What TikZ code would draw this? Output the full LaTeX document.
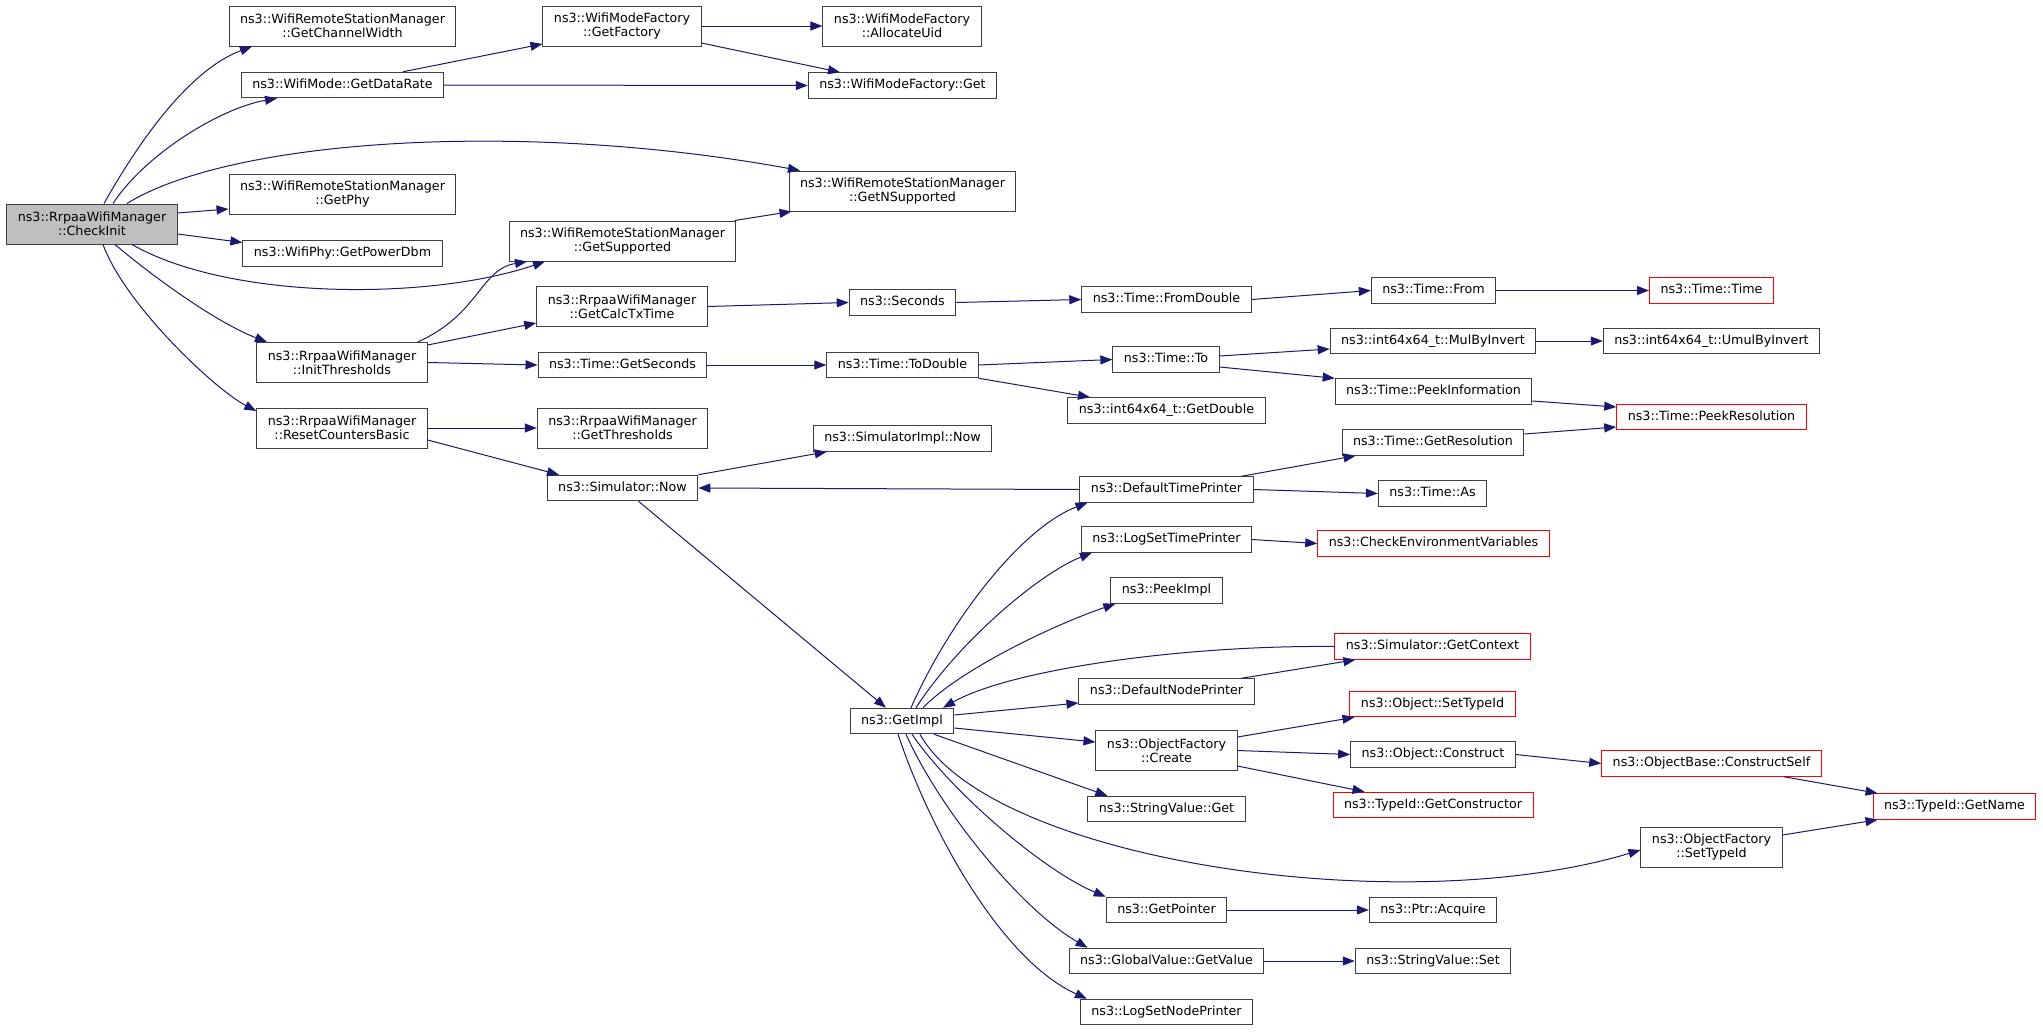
\documentclass[tikz,border=0pt]{standalone}
\usepackage{fontspec}
\setmainfont{DejaVu Sans}
\usetikzlibrary{arrows.meta,positioning}
\definecolor{edgeblue}{HTML}{191970}
\definecolor{boxline}{HTML}{404040}
\definecolor{rootfill}{HTML}{BFBFBF}
\definecolor{truncred}{HTML}{FF0000}

\begin{document}
\begin{tikzpicture}[
    x=1pt, y=-1pt,
    font=\fontsize{12.7}{14}\selectfont,
    box/.style={rectangle, draw=boxline, fill=white, line width=1pt, inner xsep=11pt, inner ysep=0pt},
    block/.style={box, minimum height=25.5pt, text height=9.5pt, text depth=2.8pt},
    block2/.style={box, align=center, minimum height=40pt},
    cut/.style={draw=truncred},
    root/.style={fill=rootfill},
    arrow/.style={draw=edgeblue, line width=1pt, -{Triangle[length=12pt,width=9pt]}}
]
    \path[use as bounding box, fill=white] (0,0) rectangle (2043,1031);

    \node[block2, root] (ci) at (92,224) {ns3::RrpaaWifiManager\\::CheckInit};

    \node[block2] (gcw) at (342.5,26) {ns3::WifiRemoteStationManager\\::GetChannelWidth};
    \node[block] (gdr) at (342.5,85) {ns3::WifiMode::GetDataRate};
    \node[block2] (gphy) at (342.5,194) {ns3::WifiRemoteStationManager\\::GetPhy};
    \node[block] (gpd) at (342.5,253.5) {ns3::WifiPhy::GetPowerDbm};
    \node[block2] (it) at (342,362.5) {ns3::RrpaaWifiManager\\::InitThresholds};
    \node[block2] (rcb) at (342,428) {ns3::RrpaaWifiManager\\::ResetCountersBasic};

    \node[block2] (gf) at (622,26) {ns3::WifiModeFactory\\::GetFactory};
    \node[block2] (gs) at (622.5,241) {ns3::WifiRemoteStationManager\\::GetSupported};
    \node[block2] (gct) at (622,306.5) {ns3::RrpaaWifiManager\\::GetCalcTxTime};
    \node[block] (gsec) at (622.5,365) {ns3::Time::GetSeconds};
    \node[block2] (gth) at (622.5,428) {ns3::RrpaaWifiManager\\::GetThresholds};
    \node[block] (snow) at (622.5,488) {ns3::Simulator::Now};

    \node[block2] (au) at (902,26) {ns3::WifiModeFactory\\::AllocateUid};
    \node[block] (wmfg) at (902.5,85.5) {ns3::WifiModeFactory::Get};
    \node[block2] (gns) at (902.5,191) {ns3::WifiRemoteStationManager\\::GetNSupported};
    \node[block] (sec) at (902.5,302.5) {ns3::Seconds};
    \node[block] (td) at (902.5,365) {ns3::Time::ToDouble};
    \node[block] (simpl) at (902.5,438.5) {ns3::SimulatorImpl::Now};
    \node[block] (gi) at (902,721) {ns3::GetImpl};

    \node[block] (fd) at (1166.5,299.5) {ns3::Time::FromDouble};
    \node[block] (tto) at (1166,359.5) {ns3::Time::To};
    \node[block] (gd) at (1166.5,410.5) {ns3::int64x64\_t::GetDouble};
    \node[block] (dtp) at (1166.5,489.5) {ns3::DefaultTimePrinter};
    \node[block] (lstp) at (1166.5,539.5) {ns3::LogSetTimePrinter};
    \node[block] (pimpl) at (1166.5,590.5) {ns3::PeekImpl};
    \node[block] (dnp) at (1166.5,691.5) {ns3::DefaultNodePrinter};
    \node[block2] (ofc) at (1166.5,750.5) {ns3::ObjectFactory\\::Create};
    \node[block] (svg) at (1166.5,809) {ns3::StringValue::Get};
    \node[block] (gp) at (1166.5,910) {ns3::GetPointer};
    \node[block] (ggv) at (1166.5,961) {ns3::GlobalValue::GetValue};
    \node[block] (lsnp) at (1166.5,1012) {ns3::LogSetNodePrinter};

    \node[block] (tfrom) at (1433.5,290.5) {ns3::Time::From};
    \node[block] (mbi) at (1433,341) {ns3::int64x64\_t::MulByInvert};
    \node[block] (pinf) at (1433.5,391.5) {ns3::Time::PeekInformation};
    \node[block] (gres) at (1433,442.5) {ns3::Time::GetResolution};
    \node[block] (tas) at (1432.5,493.5) {ns3::Time::As};
    \node[block, cut] (cev) at (1433.5,543.5) {ns3::CheckEnvironmentVariables};
    \node[block, cut] (gctx) at (1432.5,646.5) {ns3::Simulator::GetContext};
    \node[block, cut] (osti) at (1432.5,704) {ns3::Object::SetTypeId};
    \node[block] (ocon) at (1433,754.5) {ns3::Object::Construct};
    \node[block, cut] (gcon) at (1433,805) {ns3::TypeId::GetConstructor};
    \node[block] (pacq) at (1433,910) {ns3::Ptr::Acquire};
    \node[block] (ssv) at (1433,961) {ns3::StringValue::Set};

    \node[block, cut] (ttime) at (1711.5,290.5) {ns3::Time::Time};
    \node[block] (umul) at (1711.5,341) {ns3::int64x64\_t::UmulByInvert};
    \node[block, cut] (pres) at (1711.5,417) {ns3::Time::PeekResolution};
    \node[block, cut] (ocs) at (1711.5,763.5) {ns3::ObjectBase::ConstructSelf};
    \node[block2] (ofs) at (1711.5,847) {ns3::ObjectFactory\\::SetTypeId};

    \node[block, cut] (gname) at (1954.5,806.5) {ns3::TypeId::GetName};

    \draw[arrow] ([xshift=12pt]ci.north) .. controls +(36,-64) and +(-62,23) .. ([xshift=-90.5pt]gcw.south);
    \draw[arrow] ([xshift=21pt]ci.north) .. controls +(32,-49) and +(-57,10) .. ([xshift=-65.5pt]gdr.south);
    \draw[arrow] ([xshift=35pt]ci.north) .. controls +(103,-64) and +(-280,-51) .. ([xshift=-102.5pt]gns.north);
    \draw[arrow] ([yshift=11pt]ci.east) -- ([yshift=-15pt]gphy.west);
    \draw[arrow] ([yshift=-10pt]ci.east) -- ([yshift=11pt]gpd.west);
    \draw[arrow] ([xshift=40pt]ci.south) .. controls +(98,56) and +(-115,39) .. ([xshift=-77.5pt]gs.south);
    \draw[arrow] ([xshift=23pt]ci.south) .. controls +(45,38) and +(-47,-18) .. ([xshift=-75pt]it.north);
    \draw[arrow] ([xshift=11pt]ci.south) .. controls +(22,60) and +(-42,-22) .. ([yshift=17pt]rcb.west);

    \draw[arrow] ([xshift=60.5pt]gdr.north) -- ([yshift=-18pt]gf.west);
    \draw[arrow] (gdr.east) -- (wmfg.west);
    \draw[arrow] (gf.east) -- (au.west);
    \draw[arrow] ([yshift=-17pt]gf.east) -- ([xshift=-62.5pt]wmfg.north);
    \draw[arrow] ([xshift=-2pt]gs.north east) -- ([xshift=3pt]gns.south west);

    \draw[arrow] ([xshift=-10pt]it.north east) .. controls +(62,-28) and +(-47,8) .. ([xshift=-95.5pt]gs.south);
    \draw[arrow] ([yshift=17.5pt]it.east) -- ([yshift=-16.5pt]gct.west);
    \draw[arrow] (it.east) -- (gsec.west);
    \draw[arrow] (rcb.east) -- (gth.west);
    \draw[arrow] ([yshift=-12pt]rcb.east) -- ([xshift=-63.5pt]snow.north);

    \draw[arrow] (gct.east) -- (sec.west);
    \draw[arrow] (sec.east) -- (fd.west);
    \draw[arrow] (fd.east) -- (tfrom.west);
    \draw[arrow] (tfrom.east) -- (ttime.west);
    \draw[arrow] (gsec.east) -- (td.west);
    \draw[arrow] (td.east) -- (tto.west);
    \draw[arrow] (td.south east) -- ([xshift=-76.5pt]gd.north);
    \draw[arrow] ([yshift=3.5pt]tto.east) -- ([yshift=-8pt]mbi.west);
    \draw[arrow] ([yshift=-7.5pt]tto.east) -- (pinf.north west);
    \draw[arrow] (mbi.east) -- (umul.west);
    \draw[arrow] ([yshift=-9.5pt]pinf.east) -- ([yshift=10pt]pres.west);
    \draw[arrow] ([yshift=8.5pt]gres.east) -- ([yshift=-10pt]pres.west);

    \draw[arrow] (snow.north east) -- ([xshift=14pt]simpl.south west);
    \draw[arrow] ([xshift=16pt]snow.south) -- ([xshift=-16pt]gi.north);
    \draw[arrow] (dtp.west) -- (snow.east);
    \draw[arrow] ([xshift=-12pt]dtp.north east) -- ([xshift=14pt]gres.south west);
    \draw[arrow] (dtp.east) -- (tas.west);
    \draw[arrow] (lstp.east) -- (cev.west);

    \draw[arrow] ([xshift=9pt]gi.north) .. controls +(39,-88) and +(-66,25) .. ([xshift=8pt]dtp.south west);
    \draw[arrow] ([xshift=14pt]gi.north) .. controls +(44,-68) and +(-51,20) .. ([xshift=11pt]lstp.south west);
    \draw[arrow] ([xshift=21pt]gi.north) .. controls +(37,-38) and +(-64,22) .. ([xshift=5pt]pimpl.south west);
    \draw[arrow] (gctx.west) .. controls +(-153,-1.5) and +(67,-38) .. ([xshift=41pt]gi.north);
    \draw[arrow] ([xshift=-13pt]dnp.north east) -- ([xshift=21pt]gctx.south west);
    \draw[arrow] ([yshift=6pt]gi.east) -- ([yshift=-11.5pt]dnp.west);
    \draw[arrow] ([yshift=-7pt]gi.east) -- ([yshift=8.5pt]ofc.west);
    \draw[arrow] ([yshift=13.5pt]ofc.east) -- ([xshift=5pt]osti.south west);
    \draw[arrow] (ofc.east) -- (ocon.west);
    \draw[arrow] ([yshift=-15.5pt]ofc.east) -- ([xshift=32pt]gcon.north west);
    \draw[arrow] (ocon.east) -- (ocs.west);
    \draw[arrow] ([xshift=72.5pt]ocs.south) -- ([xshift=5pt]gname.north west);
    \draw[arrow] ([yshift=12pt]ofs.east) -- ([xshift=5pt]gname.south west);
    \draw[arrow] ([xshift=32pt]gi.south) -- ([xshift=20pt]svg.north west);
    \draw[arrow] ([xshift=18pt]gi.south) .. controls +(70,126) and +(-240,72) .. ([yshift=-3pt]ofs.west);
    \draw[arrow] ([xshift=10pt]gi.south) .. controls +(38,56) and +(-64,-27) .. (gp.north west);
    \draw[arrow] ([xshift=4pt]gi.south) .. controls +(34,76) and +(-66,-38) .. ([xshift=19pt]ggv.north west);
    \draw[arrow] ([xshift=-4pt]gi.south) .. controls +(32,96) and +(-86,-39) .. ([xshift=7pt]lsnp.north west);
    \draw[arrow] (gp.east) -- (pacq.west);
    \draw[arrow] (ggv.east) -- (ssv.west);
\end{tikzpicture}
\end{document}
